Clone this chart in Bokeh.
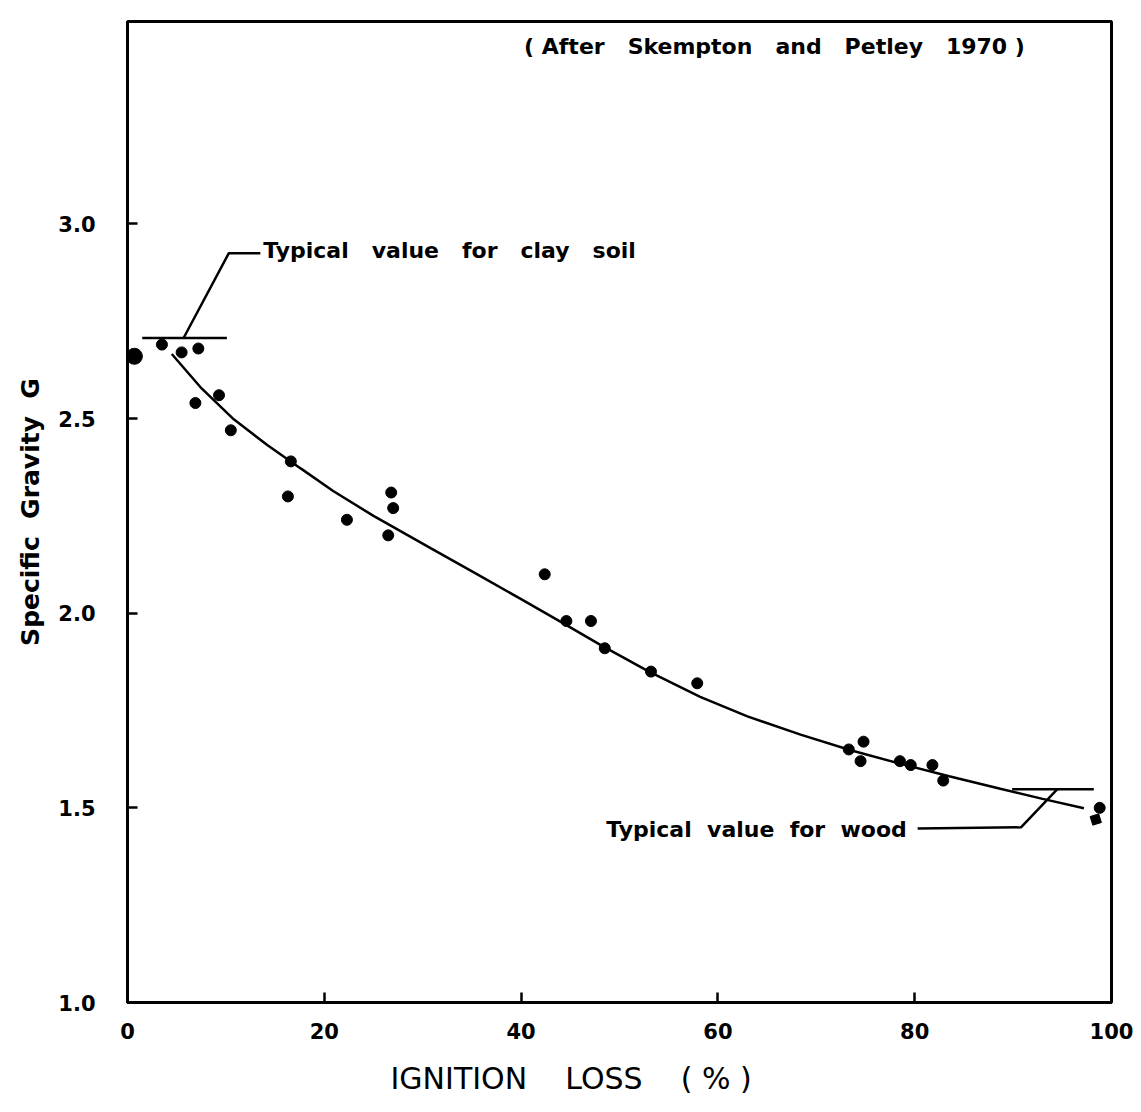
from bokeh.plotting import figure
from bokeh.models import Range1d, Title, FixedTicker
from bokeh.core.properties import value
from bokeh.embed import file_html
from bokeh.resources import INLINE

# ---------------- data ----------------
ignition_loss = [3.5, 5.5, 7.2, 6.9, 9.3, 10.5, 16.6, 16.3, 22.3, 26.8, 27.0, 26.5,
                 42.4, 44.6, 47.1, 48.5, 53.2, 57.9, 73.3, 74.8, 74.5, 78.5, 79.6,
                 81.8, 82.9, 98.8]
specific_gravity = [2.69, 2.67, 2.68, 2.54, 2.56, 2.47, 2.39, 2.30, 2.24, 2.31, 2.27, 2.20,
                    2.10, 1.98, 1.98, 1.91, 1.85, 1.82, 1.65, 1.67, 1.62, 1.62, 1.61,
                    1.61, 1.57, 1.50]
big_point_x = [0.7]
big_point_g = [2.66]
square_point_x = [98.4]
square_point_g = [1.47]

curve_x = [4.5, 7.4, 10.8, 14.2, 17.6, 20.9, 25.0, 30.8, 35.6, 40.0, 44.3, 48.1,
           53.0, 58.2, 63.0, 68.4, 73.5, 78.6, 83.5, 88.7, 93.0, 97.2]
curve_g = [2.666, 2.581, 2.498, 2.432, 2.372, 2.314, 2.250, 2.167, 2.099, 2.036, 1.974, 1.918,
           1.850, 1.785, 1.735, 1.688, 1.648, 1.613, 1.581, 1.549, 1.523, 1.499]

clay_value = 2.707
wood_value = 1.548

x_ticks = [0, 20, 40, 60, 80, 100]
x_tick_labels = ["0", "20", "40", "60", "80", "100"]
y_ticks = [1.0, 1.5, 2.0, 2.5, 3.0]
y_tick_labels = ["1.0", "1.5", "2.0", "2.5", "3.0"]

FONT = "DejaVu Sans"
GAP2 = "\u00a0 "            # wider word gap (non-breaking space + space)
GAP3 = "\u00a0\u00a0 "
GAP4 = "\u00a0\u00a0\u00a0 "

p = figure(width=1141, height=1112, output_backend="svg", toolbar_location=None,
           x_range=Range1d(0, 100), y_range=Range1d(1.0, 3.52),
           min_border_left=127, min_border_right=30, min_border_top=21, min_border_bottom=110)
p.background_fill_color = "white"
p.border_fill_color = "white"
p.grid.visible = False
p.outline_line_color = "black"
p.outline_line_width = 3

p.xaxis.ticker = FixedTicker(ticks=x_ticks)
p.yaxis.ticker = FixedTicker(ticks=y_ticks)
p.xaxis.major_label_overrides = {t: l for t, l in zip(x_ticks, x_tick_labels)}
p.yaxis.major_label_overrides = {t: l for t, l in zip(y_ticks, y_tick_labels)}
for ax in (p.xaxis, p.yaxis):
    ax.axis_line_width = 3
    ax.axis_line_color = "black"
    ax.major_tick_in = 10
    ax.major_tick_out = 0
    ax.major_tick_line_width = 2.5
    ax.minor_tick_line_color = None
    ax.major_label_text_font = FONT
    ax.major_label_text_font_style = "bold"
    ax.major_label_text_font_size = "21px"
    ax.major_label_text_color = "black"
p.xaxis.major_label_standoff = 20
p.yaxis.major_label_standoff = 32

p.yaxis.axis_label = "Specific" + GAP2 + "Gravity" + GAP2 + "G"
p.yaxis.axis_label_text_font = FONT
p.yaxis.axis_label_text_font_style = "bold"
p.yaxis.axis_label_text_font_size = "25px"
p.yaxis.axis_label_text_color = "black"
p.yaxis.axis_label_standoff = 10

# fitted curve
p.line(curve_x, curve_g, line_color="black", line_width=2.5)

# data points
p.scatter(ignition_loss, specific_gravity, size=11, color="black", marker="circle")
p.scatter(big_point_x, big_point_g, size=16, color="black", marker="circle")
p.scatter(square_point_x, square_point_g, size=9, color="black", marker="square", angle=0.3)

# typical value reference lines with leaders
p.line([1.5, 10.1], [clay_value, clay_value], line_color="black", line_width=2.5)
p.line([5.7, 10.3, 13.5], [clay_value, 2.925, 2.925], line_color="black", line_width=2.5)
p.line([89.9, 98.2], [wood_value, wood_value], line_color="black", line_width=2.5)
p.line([94.5, 90.8, 80.3], [wood_value, 1.45, 1.447], line_color="black", line_width=2.5)

clay_text = GAP3.join(["Typical", "value", "for", "clay", "soil"])
wood_text = GAP2.join(["Typical", "value", "for", "wood"])
source_text = "( " + GAP3.join(["After", "Skempton", "and", "Petley", "1970"]) + " )"

p.text([13.8], [2.933], text=[clay_text], text_font=value(FONT),
       text_font_style="bold", text_font_size="22px", text_baseline="middle",
       text_align="left", text_color="black")
p.text([79.2], [1.445], text=[wood_text], text_font=value(FONT),
       text_font_style="bold", text_font_size="22px", text_baseline="middle",
       text_align="right", text_color="black")
p.text([40.3], [3.455], text=[source_text], text_font=value(FONT),
       text_font_style="bold", text_font_size="22px", text_baseline="middle",
       text_align="left", text_color="black")

# x-axis title (placed off-centre as in the reference)
p.add_layout(Title(text="IGNITION" + GAP4 + "LOSS" + GAP4 + "( % )", align="left", offset=263,
                   text_font=FONT, text_font_size="30px", text_font_style="normal",
                   text_color="black", standoff=34), "below")

open("out.html", "w").write(file_html(p, INLINE))
